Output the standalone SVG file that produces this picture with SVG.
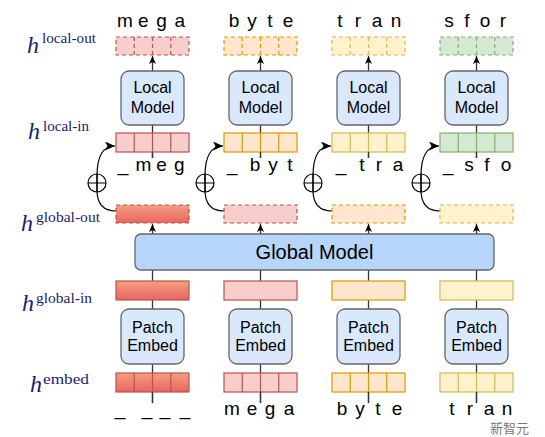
<svg xmlns="http://www.w3.org/2000/svg" width="545" height="437" viewBox="0 0 545 437">
<style>
.r{fill:#f8cecc;stroke:#b85450}
.o{fill:#ffe6cc;stroke:#d79b00}
.y{fill:#fff2cc;stroke:#d6b656}
.g{fill:#d5e8d4;stroke:#82b366}
.rg{fill:url(#redg);stroke:#b85450}
.rect{stroke-width:1.2}
.dash{stroke-dasharray:4 3}
.div{stroke-width:1.2}
.model{fill:#dae8fc;stroke:#666;stroke-width:1.3}
.gmodel{fill:#b7d4fb;stroke:#666;stroke-width:1.3}
.lbl{font-family:"Liberation Sans",Arial,sans-serif;font-size:16px;fill:#000;text-anchor:middle}
.ch{font-family:"Liberation Sans",Arial,sans-serif;font-size:19px;fill:#000;text-anchor:middle}
.h{font-family:"Liberation Serif","DejaVu Serif",serif;font-style:italic;font-size:24px;fill:#1d1d6e}
.sup{font-family:"Liberation Serif","DejaVu Serif",serif;font-size:15px;fill:#1d1d6e}
.ln{stroke:#333;stroke-width:1.3;fill:none}
.cv{stroke:#000;stroke-width:1.2;fill:none}
</style>
<defs>
<linearGradient id="redg" x1="0" y1="0" x2="0" y2="1">
<stop offset="0" stop-color="#f3a07f"/>
<stop offset="1" stop-color="#e9645f"/>
</linearGradient>
<marker id="ah" markerUnits="userSpaceOnUse" markerWidth="10" markerHeight="9" refX="8" refY="3.5" orient="auto">
<path d="M0,0 L8,3.5 L0,7 L2,3.5 z" fill="#000"/>
</marker>
<marker id="ah2" markerUnits="userSpaceOnUse" markerWidth="12" markerHeight="10" refX="10" refY="4.5" orient="auto">
<path d="M0,0 L10,4.5 L0,9 L2.5,4.5 z" fill="#000"/>
</marker>
</defs>

<!-- connectors -->
<g id="connectors">
<g id="conn-col1">
<line class="ln" x1="152.5" y1="125" x2="152.5" y2="158"/>
<line class="ln" x1="152.5" y1="71" x2="152.5" y2="56" marker-end="url(#ah)"/>
<line class="ln" x1="152.5" y1="234" x2="152.5" y2="224" marker-end="url(#ah)"/>
<line class="ln" x1="152.5" y1="270" x2="152.5" y2="281"/>
<line class="ln" x1="152.5" y1="300" x2="152.5" y2="309"/>
<line class="ln" x1="152.5" y1="364" x2="152.5" y2="403"/>
<path class="cv" d="M116,211 C103,211 97,203 97,190 L97,176 C97,160 101,146 115,146" marker-end="url(#ah2)"/>
<circle class="cv" cx="97" cy="183" r="9"/>
<path class="cv" d="M88,183 H106 M97,174 V192"/>
</g>
<g id="conn-col2">
<line class="ln" x1="260.5" y1="125" x2="260.5" y2="158"/>
<line class="ln" x1="260.5" y1="71" x2="260.5" y2="56" marker-end="url(#ah)"/>
<line class="ln" x1="260.5" y1="234" x2="260.5" y2="224" marker-end="url(#ah)"/>
<line class="ln" x1="260.5" y1="270" x2="260.5" y2="281"/>
<line class="ln" x1="260.5" y1="300" x2="260.5" y2="309"/>
<line class="ln" x1="260.5" y1="364" x2="260.5" y2="403"/>
<path class="cv" d="M224,211 C211,211 205,203 205,190 L205,176 C205,160 209,146 223,146" marker-end="url(#ah2)"/>
<circle class="cv" cx="205" cy="183" r="9"/>
<path class="cv" d="M196,183 H214 M205,174 V192"/>
</g>
<g id="conn-col3">
<line class="ln" x1="368.5" y1="125" x2="368.5" y2="158"/>
<line class="ln" x1="368.5" y1="71" x2="368.5" y2="56" marker-end="url(#ah)"/>
<line class="ln" x1="368.5" y1="234" x2="368.5" y2="224" marker-end="url(#ah)"/>
<line class="ln" x1="368.5" y1="270" x2="368.5" y2="281"/>
<line class="ln" x1="368.5" y1="300" x2="368.5" y2="309"/>
<line class="ln" x1="368.5" y1="364" x2="368.5" y2="403"/>
<path class="cv" d="M332,211 C319,211 313,203 313,190 L313,176 C313,160 317,146 331,146" marker-end="url(#ah2)"/>
<circle class="cv" cx="313" cy="183" r="9"/>
<path class="cv" d="M304,183 H322 M313,174 V192"/>
</g>
<g id="conn-col4">
<line class="ln" x1="476.5" y1="125" x2="476.5" y2="158"/>
<line class="ln" x1="476.5" y1="71" x2="476.5" y2="56" marker-end="url(#ah)"/>
<line class="ln" x1="476.5" y1="234" x2="476.5" y2="224" marker-end="url(#ah)"/>
<line class="ln" x1="476.5" y1="270" x2="476.5" y2="281"/>
<line class="ln" x1="476.5" y1="300" x2="476.5" y2="309"/>
<line class="ln" x1="476.5" y1="364" x2="476.5" y2="403"/>
<path class="cv" d="M440,211 C427,211 421,203 421,190 L421,176 C421,160 425,146 439,146" marker-end="url(#ah2)"/>
<circle class="cv" cx="421" cy="183" r="9"/>
<path class="cv" d="M412,183 H430 M421,174 V192"/>
</g>
</g>

<!-- labels on the left -->
<g id="labels">
<text class="h" x="27" y="53">h</text><text class="sup" x="42" y="43" textLength="54" lengthAdjust="spacingAndGlyphs">local-out</text>
<text class="h" x="28" y="139">h</text><text class="sup" x="43" y="131" textLength="46" lengthAdjust="spacingAndGlyphs">local-in</text>
<text class="h" x="21" y="231">h</text><text class="sup" x="36" y="222" textLength="64" lengthAdjust="spacingAndGlyphs">global-out</text>
<text class="h" x="22" y="311">h</text><text class="sup" x="36" y="303" textLength="56" lengthAdjust="spacingAndGlyphs">global-in</text>
<text class="h" x="30" y="392">h</text><text class="sup" x="43" y="384" textLength="46" lengthAdjust="spacingAndGlyphs">embed</text>
</g>

<!-- Global model -->
<g id="global-model">
<rect class="gmodel" x="135" y="234" width="359" height="36" rx="6"/>
<text class="lbl" x="314.5" y="259" style="font-size:20px">Global Model</text>
</g>

<!-- Column 1 -->
<g id="col1-local-out">
<rect class="r rect dash" x="116" y="37" width="73" height="18"/>
<path class="r div dash" d="M134.25,37V55M152.5,37V55M170.75,37V55"/>
<text class="ch" x="125" y="27">m</text><text class="ch" x="143.4" y="27">e</text><text class="ch" x="161.6" y="27">g</text><text class="ch" x="179.9" y="27">a</text>
</g>
<g id="col1-local-model">
<rect class="model" x="121" y="71" width="63" height="54" rx="8"/>
<text class="lbl" x="152.5" y="93">Local</text><text class="lbl" x="152.5" y="113">Model</text>
</g>
<g id="col1-local-in">
<rect class="r rect" x="116" y="133" width="73" height="19"/>
<path class="r div" d="M134.25,133V152M152.5,133V152M170.75,133V152"/>
<line class="ln" x1="152.5" y1="152" x2="152.5" y2="158"/>
<text class="ch" x="123" y="171">_</text><text class="ch" x="143.4" y="171">m</text><text class="ch" x="161.6" y="171">e</text><text class="ch" x="179.4" y="171">g</text>
</g>
<g id="col1-global-out"><rect class="rg rect dash" x="116" y="205" width="73" height="18"/></g>
<g id="col1-global-in"><rect class="rg rect" x="116" y="281" width="73" height="19"/></g>
<g id="col1-patch-embed">
<rect class="model" x="121" y="309" width="63" height="55" rx="8"/>
<text class="lbl" x="152.5" y="333">Patch</text><text class="lbl" x="152.5" y="351">Embed</text>
</g>
<g id="col1-embed">
<rect class="rg rect" x="116" y="373" width="73" height="19"/>
<path class="r div" d="M134.25,373V392M152.5,373V392M170.75,373V392"/>
<line class="ln" x1="152.5" y1="392" x2="152.5" y2="403"/>
<text class="ch" x="120" y="415">_</text><text class="ch" x="147" y="415">_</text><text class="ch" x="165" y="415">_</text><text class="ch" x="185" y="415">_</text>
</g>

<!-- Column 2 -->
<g id="col2-local-out">
<rect class="o rect dash" x="224" y="37" width="73" height="18"/>
<path class="o div dash" d="M242.25,37V55M260.5,37V55M278.75,37V55"/>
<text class="ch" x="234" y="27">b</text><text class="ch" x="252" y="27">y</text><text class="ch" x="270" y="27">t</text><text class="ch" x="288" y="27">e</text>
</g>
<g id="col2-local-model">
<rect class="model" x="229" y="71" width="63" height="54" rx="8"/>
<text class="lbl" x="260.5" y="93">Local</text><text class="lbl" x="260.5" y="113">Model</text>
</g>
<g id="col2-local-in">
<rect class="o rect" x="224" y="133" width="73" height="19"/>
<path class="o div" d="M242.25,133V152M260.5,133V152M278.75,133V152"/>
<line class="ln" x1="260.5" y1="152" x2="260.5" y2="158"/>
<text class="ch" x="232" y="171">_</text><text class="ch" x="255" y="171">b</text><text class="ch" x="273" y="171">y</text><text class="ch" x="290" y="171">t</text>
</g>
<g id="col2-global-out"><rect class="r rect dash" x="224" y="205" width="73" height="18"/></g>
<g id="col2-global-in"><rect class="r rect" x="224" y="281" width="73" height="19"/></g>
<g id="col2-patch-embed">
<rect class="model" x="229" y="309" width="63" height="55" rx="8"/>
<text class="lbl" x="260.5" y="333">Patch</text><text class="lbl" x="260.5" y="351">Embed</text>
</g>
<g id="col2-embed">
<rect class="r rect" x="224" y="373" width="73" height="19"/>
<path class="r div" d="M242.25,373V392M260.5,373V392M278.75,373V392"/>
<line class="ln" x1="260.5" y1="392" x2="260.5" y2="403"/>
<text class="ch" x="232" y="415">m</text><text class="ch" x="252" y="415">e</text><text class="ch" x="270" y="415">g</text><text class="ch" x="289" y="415">a</text>
</g>

<!-- Column 3 -->
<g id="col3-local-out">
<rect class="y rect dash" x="332" y="37" width="73" height="18"/>
<path class="y div dash" d="M350.25,37V55M368.5,37V55M386.75,37V55"/>
<text class="ch" x="340" y="27">t</text><text class="ch" x="358" y="27">r</text><text class="ch" x="377" y="27">a</text><text class="ch" x="396" y="27">n</text>
</g>
<g id="col3-local-model">
<rect class="model" x="337" y="71" width="63" height="54" rx="8"/>
<text class="lbl" x="368.5" y="93">Local</text><text class="lbl" x="368.5" y="113">Model</text>
</g>
<g id="col3-local-in">
<rect class="y rect" x="332" y="133" width="73" height="19"/>
<path class="y div" d="M350.25,133V152M368.5,133V152M386.75,133V152"/>
<line class="ln" x1="368.5" y1="152" x2="368.5" y2="158"/>
<text class="ch" x="341" y="171">_</text><text class="ch" x="362" y="171">t</text><text class="ch" x="379" y="171">r</text><text class="ch" x="398" y="171">a</text>
</g>
<g id="col3-global-out"><rect class="o rect dash" x="332" y="205" width="73" height="18"/></g>
<g id="col3-global-in"><rect class="o rect" x="332" y="281" width="73" height="19"/></g>
<g id="col3-patch-embed">
<rect class="model" x="337" y="309" width="63" height="55" rx="8"/>
<text class="lbl" x="368.5" y="333">Patch</text><text class="lbl" x="368.5" y="351">Embed</text>
</g>
<g id="col3-embed">
<rect class="o rect" x="332" y="373" width="73" height="19"/>
<path class="o div" d="M350.25,373V392M368.5,373V392M386.75,373V392"/>
<line class="ln" x1="368.5" y1="392" x2="368.5" y2="403"/>
<text class="ch" x="342" y="415">b</text><text class="ch" x="360" y="415">y</text><text class="ch" x="378" y="415">t</text><text class="ch" x="397" y="415">e</text>
</g>

<!-- Column 4 -->
<g id="col4-local-out">
<rect class="g rect dash" x="440" y="37" width="73" height="18"/>
<path class="g div dash" d="M458.25,37V55M476.5,37V55M494.75,37V55"/>
<text class="ch" x="449" y="27">s</text><text class="ch" x="467" y="27">f</text><text class="ch" x="485" y="27">o</text><text class="ch" x="503" y="27">r</text>
</g>
<g id="col4-local-model">
<rect class="model" x="445" y="71" width="63" height="54" rx="8"/>
<text class="lbl" x="476.5" y="93">Local</text><text class="lbl" x="476.5" y="113">Model</text>
</g>
<g id="col4-local-in">
<rect class="g rect" x="440" y="133" width="73" height="19"/>
<path class="g div" d="M458.25,133V152M476.5,133V152M494.75,133V152"/>
<line class="ln" x1="476.5" y1="152" x2="476.5" y2="158"/>
<text class="ch" x="448" y="171">_</text><text class="ch" x="469" y="171">s</text><text class="ch" x="487" y="171">f</text><text class="ch" x="506" y="171">o</text>
</g>
<g id="col4-global-out"><rect class="y rect dash" x="440" y="205" width="73" height="18"/></g>
<g id="col4-global-in"><rect class="y rect" x="440" y="281" width="73" height="19"/></g>
<g id="col4-patch-embed">
<rect class="model" x="445" y="309" width="63" height="55" rx="8"/>
<text class="lbl" x="476.5" y="333">Patch</text><text class="lbl" x="476.5" y="351">Embed</text>
</g>
<g id="col4-embed">
<rect class="y rect" x="440" y="373" width="73" height="19"/>
<path class="y div" d="M458.25,373V392M476.5,373V392M494.75,373V392"/>
<line class="ln" x1="476.5" y1="392" x2="476.5" y2="403"/>
<text class="ch" x="452" y="415">t</text><text class="ch" x="470" y="415">r</text><text class="ch" x="489" y="415">a</text><text class="ch" x="507" y="415">n</text>
</g>

<!-- watermark -->
<g id="watermark">
<text x="490" y="433" style="font-family:'Noto Sans CJK SC','Noto Sans',sans-serif;font-size:13px;fill:#777">新智元</text>
</g>
</svg>
